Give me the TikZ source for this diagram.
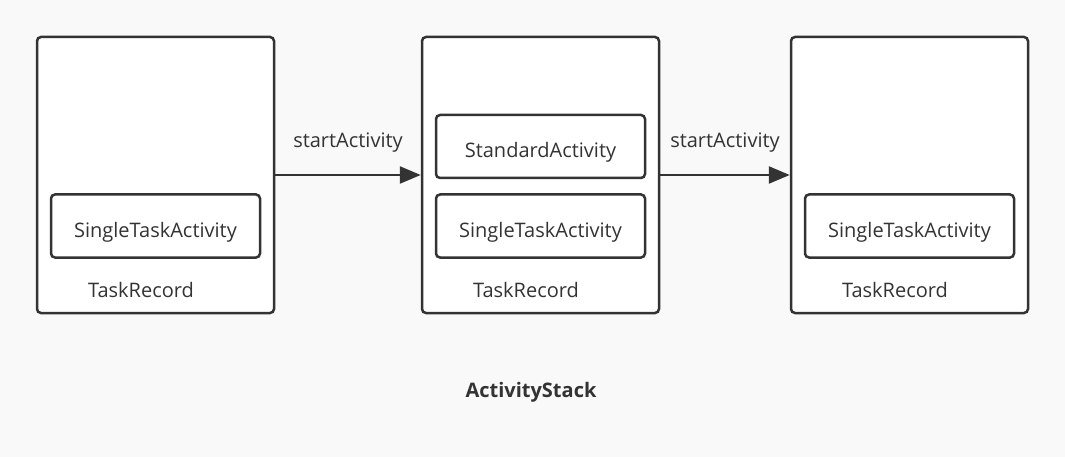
\documentclass[tikz,border=0pt]{standalone}
\usepackage{fontspec}
\setmainfont{Open Sans}
\usetikzlibrary{arrows.meta}
\usetikzlibrary{positioning}
\definecolor{linegray}{HTML}{333333}
\definecolor{paper}{HTML}{F9F9F9}

\begin{document}
\begin{tikzpicture}[x=1pt, y=-1pt, ->, >={Triangle[length=21pt,width=17pt]}, line width=2.5pt, draw=linegray, text=linegray, font=\fontsize{20}{24}\selectfont]
    \tikzstyle{task}=[draw=linegray,fill=white,rounded corners=4pt,minimum width=237pt,minimum height=276pt,inner sep=0pt]
    \tikzstyle{activity}=[draw=linegray,fill=white,rounded corners=4pt,minimum width=209pt,minimum height=63pt,inner sep=0pt,text height=26pt,text depth=4pt]
    \fill[paper] (0,0) rectangle (1065,457);
    \node[task]     (t1) at (155.5,175)	{};
    \node[task]     (t2) at (540.5,175)	{};
    \node[task]     (t3) at (909.5,175)	{};
    \node[activity] (s1) at (155.5,226)	{SingleTaskActivity};
    \node[activity] (d2) at (540.5,146.5)	{StandardActivity};
    \node[activity] (s2) at (540.5,226)	{SingleTaskActivity};
    \node[activity] (s3) at (909.5,226)	{SingleTaskActivity};
    \node           (r1) at (141,290)	{TaskRecord};
    \node           (r2) at (526,290)	{TaskRecord};
    \node           (r3) at (895,290)	{TaskRecord};
    \node[font=\fontsize{20}{24}\selectfont\bfseries] (stack) at (531,392) {ActivityStack};
    \path
    (t1)
      edge	node[above=18pt]{startActivity}	(t2)
    (t2)
      edge	node[above=18pt]{startActivity}	(t3);
\end{tikzpicture}
\end{document}
